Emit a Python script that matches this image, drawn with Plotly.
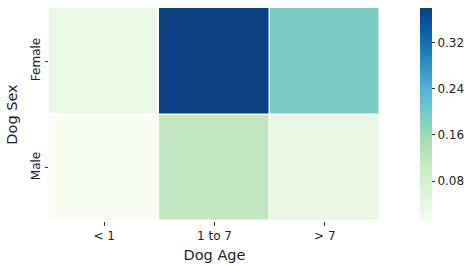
import plotly.graph_objects as go

ages = ["< 1", "1 to 7", "> 7"]
sexes = ["Female", "Male"]
female_vals = [0.032, 0.381, 0.196]
male_vals = [0.010, 0.114, 0.036]
cbar_ticks = [0.08, 0.16, 0.24, 0.32]

gnbu = ["#f7fcf0", "#e0f3db", "#ccebc5", "#a8ddb5", "#7bccc4",
        "#4eb3d3", "#2b8cbe", "#0868ac", "#084081"]
cs = [[i / (len(gnbu) - 1), c] for i, c in enumerate(gnbu)]

font = "DejaVu Sans, sans-serif"
fig = go.Figure(go.Heatmap(
    z=[male_vals, female_vals], x=ages, y=["Male", "Female"],
    colorscale=cs, xgap=1.5, ygap=1.5,
    colorbar=dict(x=1.121, xanchor="left", xref="paper", y=0.5, yanchor="middle",
                  len=1.005, lenmode="fraction", ypad=0, xpad=0,
                  thickness=12, outlinewidth=0, tickvals=cbar_ticks,
                  ticktext=[f"{t:.2f}" for t in cbar_ticks],
                  ticks="outside", ticklen=3.5, tickcolor="#333",
                  tickfont=dict(family=font, size=12, color="#222")),
))
fig.update_layout(
    width=469, height=265, margin=dict(l=49, r=89, t=8, b=44, autoexpand=False),
    plot_bgcolor="white", paper_bgcolor="white",
    font=dict(family=font, color="#222"),
    xaxis=dict(title=dict(text="Dog Age", font=dict(size=14.5), standoff=7),
               ticks="outside", ticklen=3.5, tickcolor="#333", automargin=False,
               tickfont=dict(size=12), showgrid=False, zeroline=False),
    yaxis=dict(title=dict(text="Dog Sex", font=dict(size=14.5), standoff=7),
               ticks="outside", ticklen=3.5, tickcolor="#333", tickangle=-90,
               automargin=False,
               tickfont=dict(size=12), showgrid=False, zeroline=False),
)
fig.write_html("out.html", config={"displayModeBar": False},
               post_script="document.body.style.margin='0';document.body.style.overflow='hidden';")
